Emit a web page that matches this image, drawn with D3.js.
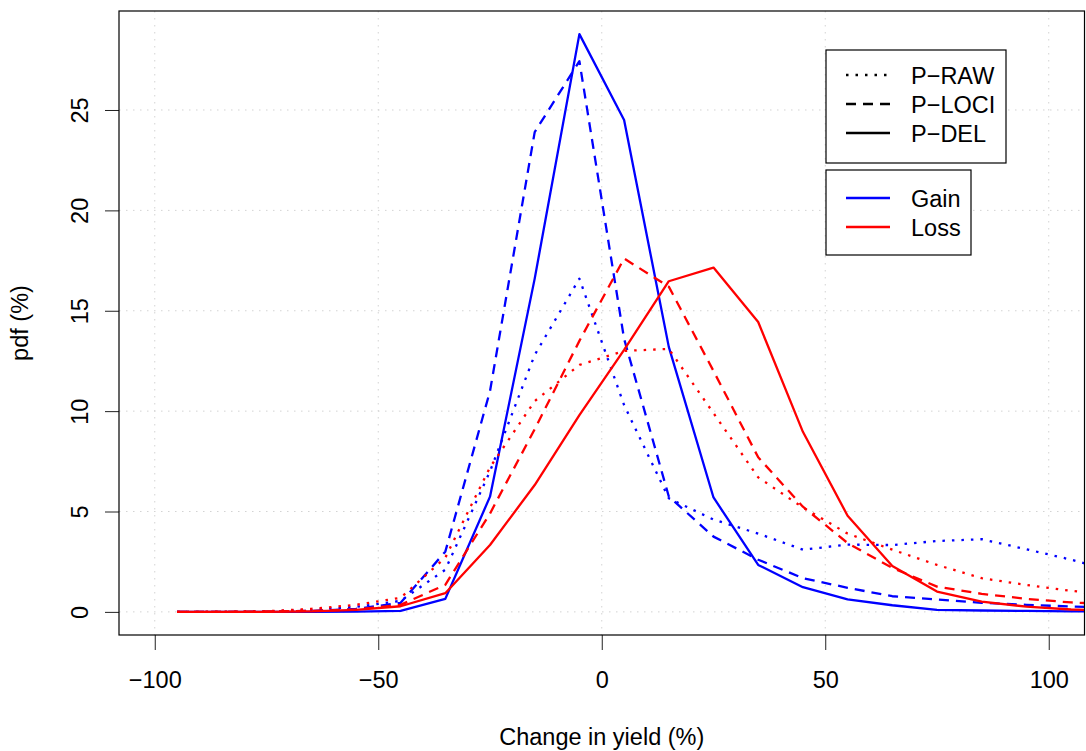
<!DOCTYPE html>
<html>
<head>
<meta charset="utf-8">
<script src="https://cdn.jsdelivr.net/npm/d3@7"></script>
<style>
  html, body { margin: 0; padding: 0; background: #fff; }
  svg text { font-family: "Liberation Sans", Arial, Helvetica, sans-serif; fill: #000; }
</style>
</head>
<body>
<svg id="chart" width="1086" height="751"></svg>
<script>
// ---- data ----
const xVals = [-95, -85, -75, -65, -55, -45, -35, -25, -15, -5, 5, 15, 25, 35, 45, 55, 65, 75, 85, 95, 105, 115];
const gainRaw  = [0, 0, 0.02, 0.1, 0.25, 0.55, 2.1, 7.0, 12.8, 16.6, 10.3, 5.66, 4.6, 3.9, 3.1, 3.35, 3.33, 3.53, 3.62, 3.12, 2.6, 2.0];
const gainLoci = [0, 0, 0.01, 0.05, 0.15, 0.45, 3.0, 11.0, 23.9, 27.43, 13.6, 5.75, 3.75, 2.6, 1.68, 1.2, 0.78, 0.62, 0.45, 0.35, 0.27, 0.2];
const gainDel  = [0, 0, 0, 0, 0.01, 0.05, 0.65, 5.74, 16.6, 28.78, 24.5, 13.2, 5.7, 2.34, 1.23, 0.62, 0.33, 0.1, 0.07, 0.05, 0.03, 0.02];
const lossRaw  = [0, 0.01, 0.03, 0.15, 0.35, 0.7, 2.7, 7.2, 10.5, 12.3, 13.0, 13.1, 9.9, 6.7, 5.2, 3.9, 3.1, 2.34, 1.68, 1.34, 1.05, 0.8];
const lossLoci = [0, 0, 0.02, 0.05, 0.12, 0.35, 1.35, 4.9, 9.1, 13.5, 17.6, 16.2, 12.0, 7.7, 5.24, 3.43, 2.19, 1.26, 0.9, 0.65, 0.47, 0.38];
const lossDel  = [0, 0, 0, 0.03, 0.1, 0.28, 0.93, 3.33, 6.32, 9.8, 13.05, 16.47, 17.15, 14.44, 8.97, 4.79, 2.29, 1.01, 0.51, 0.26, 0.12, 0.07];
const xTicks = [-100, -50, 0, 50, 100];
const yTicks = [0, 5, 10, 15, 20, 25];
const xLim = [-100, 100];
const typeLabels = ["P\u2212RAW", "P\u2212LOCI", "P\u2212DEL"];
const groupLabels = ["Gain", "Loss"];
const groupColors = ["#0000ff", "#ff0000"];
const xTitle = "Change in yield (%)";
const yTitle = "pdf (%)";

// ---- layout ----
const svg = d3.select("#chart");
const L = 119, R = 1084.5, T = 11, B = 635;
const FS = 23.5;
const dashStyles = { dotted: "2.5,7", dashed: "10,7", solid: null };

const allY = [].concat(gainRaw, gainLoci, gainDel, lossRaw, lossLoci, lossDel);
const yMax = d3.max(allY);
const xPad = (xLim[1] - xLim[0]) * 0.04;
const x = d3.scaleLinear().domain([xLim[0] - xPad, xLim[1] + xPad]).range([L, R]);
const y = d3.scaleLinear().domain([-yMax * 0.04, yMax * 1.04]).range([B, T]);

svg.append("defs").append("clipPath").attr("id", "clip")
  .append("rect").attr("x", L).attr("y", T).attr("width", R - L).attr("height", B - T);

// grid
const grid = svg.append("g").attr("stroke", "#d3d3d3").attr("stroke-width", 1).attr("stroke-dasharray", "1.5,5.5");
xTicks.forEach(v => grid.append("line").attr("x1", x(v)).attr("x2", x(v)).attr("y1", T).attr("y2", B));
yTicks.forEach(v => grid.append("line").attr("x1", L).attr("x2", R).attr("y1", y(v)).attr("y2", y(v)));

// series
const series = [
  { vals: gainRaw, color: groupColors[0], dash: dashStyles.dotted },
  { vals: gainLoci, color: groupColors[0], dash: dashStyles.dashed },
  { vals: gainDel, color: groupColors[0], dash: dashStyles.solid },
  { vals: lossRaw, color: groupColors[1], dash: dashStyles.dotted },
  { vals: lossLoci, color: groupColors[1], dash: dashStyles.dashed },
  { vals: lossDel, color: groupColors[1], dash: dashStyles.solid }
];
const line = d3.line().x((d, i) => x(xVals[i])).y(d => y(d));
const gl = svg.append("g").attr("clip-path", "url(#clip)");
series.forEach(s => {
  gl.append("path").attr("d", line(s.vals)).attr("fill", "none")
    .attr("stroke", s.color).attr("stroke-width", 2.3)
    .attr("stroke-dasharray", s.dash).attr("stroke-linejoin", "round");
});

// axes
const xAxis = d3.axisBottom(x).tickValues(xTicks).tickSize(15).tickPadding(21);
const gx = svg.append("g").attr("transform", `translate(0,${B})`).call(xAxis);
gx.select(".domain").remove();
gx.selectAll("line").attr("stroke", "#222");
gx.selectAll("text").attr("font-size", FS).attr("font-family", "Liberation Sans, Arial, sans-serif").attr("fill", "#000");

const yAxis = d3.axisLeft(y).tickValues(yTicks).tickSize(14).tickFormat(d3.format("d"));
const gy = svg.append("g").attr("transform", `translate(${L},0)`).call(yAxis);
gy.select(".domain").remove();
gy.selectAll("line").attr("stroke", "#222");
gy.selectAll("text")
  .attr("x", null).attr("dy", null)
  .attr("text-anchor", "middle")
  .attr("font-size", FS).attr("font-family", "Liberation Sans, Arial, sans-serif").attr("fill", "#000")
  .attr("transform", `translate(${88 - L},0) rotate(-90)`);

// box
svg.append("rect").attr("x", L).attr("y", T).attr("width", R - L).attr("height", B - T)
  .attr("fill", "none").attr("stroke", "#000").attr("stroke-width", 1.2);

// titles
svg.append("text").attr("x", (L + R) / 2).attr("y", 745).attr("text-anchor", "middle")
  .attr("font-size", FS).text(xTitle);
svg.append("text").attr("transform", `translate(28,${(T + B) / 2}) rotate(-90)`).attr("text-anchor", "middle")
  .attr("font-size", FS).text(yTitle);

// legend 1 (line types)
const lg1 = svg.append("g");
lg1.append("rect").attr("x", 826).attr("y", 50).attr("width", 180).attr("height", 113)
  .attr("fill", "#fff").attr("stroke", "#000").attr("stroke-width", 1.2);
const ltypes = [dashStyles.dotted, dashStyles.dashed, dashStyles.solid];
typeLabels.forEach((t, i) => {
  const yy = 75 + i * 29;
  lg1.append("line").attr("x1", 846).attr("x2", 890).attr("y1", yy).attr("y2", yy)
    .attr("stroke", "#000").attr("stroke-width", 2.3).attr("stroke-dasharray", ltypes[i]);
  lg1.append("text").attr("x", 911).attr("y", yy + 8.5).attr("font-size", FS).text(t);
});

// legend 2 (groups)
const lg2 = svg.append("g");
lg2.append("rect").attr("x", 826).attr("y", 170).attr("width", 145).attr("height", 85)
  .attr("fill", "#fff").attr("stroke", "#000").attr("stroke-width", 1.2);
groupLabels.forEach((t, i) => {
  const yy = 198 + i * 29;
  lg2.append("line").attr("x1", 846).attr("x2", 890).attr("y1", yy).attr("y2", yy)
    .attr("stroke", groupColors[i]).attr("stroke-width", 2.3);
  lg2.append("text").attr("x", 911).attr("y", yy + 8.5).attr("font-size", FS).text(t);
});
</script>
</body>
</html>
